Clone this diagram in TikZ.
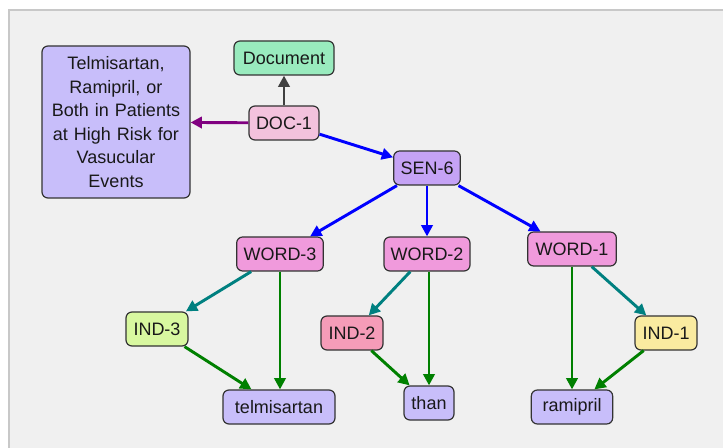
\documentclass[tikz,border=0pt]{standalone}
\usepackage{fontspec}
\setmainfont{Liberation Sans}
\usetikzlibrary{arrows.meta}
\definecolor{bgc}{HTML}{F0F0F0}
\definecolor{framec}{HTML}{C8C8C8}
\definecolor{docc}{HTML}{99EBBE}
\definecolor{doconec}{HTML}{F3C2DD}
\definecolor{titlec}{HTML}{C8BEFA}
\definecolor{senc}{HTML}{C5A3F5}
\definecolor{wordc}{HTML}{F09ADC}
\definecolor{indthreec}{HTML}{D8F8A0}
\definecolor{indtwoc}{HTML}{F59CB8}
\definecolor{indonec}{HTML}{FAEBA0}
\definecolor{tokc}{HTML}{C8BEFA}
\definecolor{bluec}{HTML}{0000FF}
\definecolor{purplec}{HTML}{800080}
\definecolor{grayc}{HTML}{404040}
\definecolor{tealc}{HTML}{008080}
\definecolor{greenc}{HTML}{008000}
\begin{document}
\begin{tikzpicture}[x=0.75pt,y=-0.75pt,
  box/.style={draw=black!80, line width=0.9pt, rounded corners=4.5pt,
    minimum height=25.5pt, inner sep=2pt, text=black!90,
    font=\fontsize{13.5}{17.6}\selectfont},
  edge/.style={line width=2.2pt, -{Triangle[length=8.5pt,width=8.5pt]}}]
\useasboundingbox (0,0) rectangle (723,448);
\fill[white] (0,0) rectangle (723,448);
\draw[framec, line width=1.5pt, fill=bgc] (9,10) rectangle (730,455);

\node[box, fill=docc, minimum width=75pt] (document) at (284,58) {Document};
\node[box, fill=doconec, minimum width=52.5pt] (doc1) at (284,123) {DOC-1};
\node[box, fill=titlec, minimum width=111pt, minimum height=114pt, text width=105pt, align=center] (title) at (116,122)
  {Telmisartan,\\Ramipril, or\\Both in Patients\\at High Risk for\\Vasucular\\Events};
\node[box, fill=senc, minimum width=50pt] (sen6) at (427,168) {SEN-6};
\node[box, fill=wordc, minimum width=65pt] (word3) at (280,254) {WORD-3};
\node[box, fill=wordc, minimum width=64.5pt] (word2) at (427,254) {WORD-2};
\node[box, fill=wordc, minimum width=66.5pt] (word1) at (572,249) {WORD-1};
\node[box, fill=indthreec, minimum width=46.5pt] (ind3) at (157,329) {IND-3};
\node[box, fill=indtwoc, minimum width=46.5pt] (ind2) at (352,333) {IND-2};
\node[box, fill=indonec, minimum width=46.5pt] (ind1) at (666,333) {IND-1};
\node[box, fill=tokc, minimum width=84pt] (telmi) at (279,407) {telmisartan};
\node[box, fill=tokc, minimum width=37.5pt] (than) at (429,403) {than};
\node[box, fill=tokc, minimum width=61pt] (rami) at (572,407) {ramipril};

\draw[edge, grayc] (doc1) -- (document);
\draw[edge, purplec] (doc1) -- (title);
\draw[edge, bluec] (doc1) -- (sen6);
\draw[edge, bluec] (sen6) -- (word3);
\draw[edge, bluec] (sen6) -- (word2);
\draw[edge, bluec] (sen6) -- (word1);
\draw[edge, tealc] (word3) -- (ind3);
\draw[edge, tealc] (word2) -- (ind2);
\draw[edge, tealc] (word1) -- (ind1);
\draw[edge, greenc] (word3.south) -- (word3.south |- telmi.north);
\draw[edge, greenc] (ind3) -- (telmi);
\draw[edge, greenc] (word2.south -| than) -- (than);
\draw[edge, greenc] (ind2) -- (than);
\draw[edge, greenc] (word1) -- (rami);
\draw[edge, greenc] (ind1) -- (rami);
\end{tikzpicture}
\end{document}
